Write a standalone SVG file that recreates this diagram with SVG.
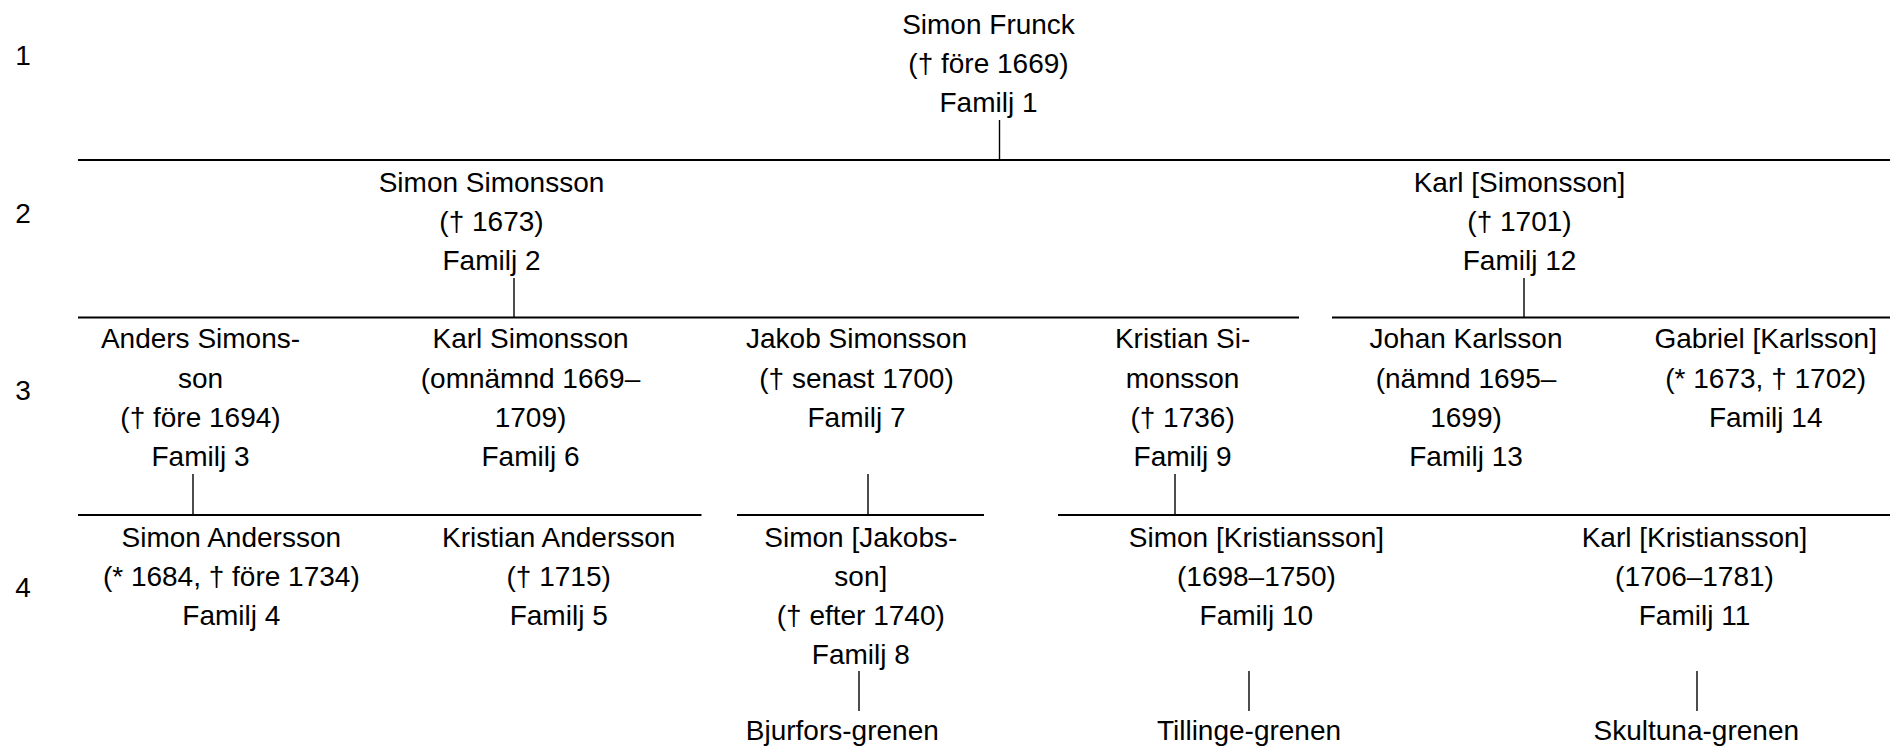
<svg xmlns="http://www.w3.org/2000/svg" width="1890" height="746" viewBox="0 0 1890 746">
<style>
.t{font-family:"Liberation Sans",Arial,sans-serif;font-size:28px;fill:#000;text-anchor:middle}
.h{stroke:#000;stroke-width:2;fill:none}
.v{stroke:#000;stroke-width:1.4;fill:none}
</style>
<rect width="1890" height="746" fill="#fff"/>
<g id="generations">
<text class="t" x="23" y="65">1</text>
<text class="t" x="23" y="223">2</text>
<text class="t" x="23" y="400">3</text>
<text class="t" x="23" y="597">4</text>
</g>
<g id="connectors">
<line class="h" x1="78" y1="160" x2="1890" y2="160"/>
<line class="h" x1="78" y1="317.5" x2="1299" y2="317.5"/>
<line class="h" x1="1332" y1="317.5" x2="1890" y2="317.5"/>
<line class="h" x1="78" y1="515" x2="701.5" y2="515"/>
<line class="h" x1="737" y1="515" x2="984" y2="515"/>
<line class="h" x1="1058" y1="515" x2="1890" y2="515"/>
<line class="v" x1="999.5" y1="120" x2="999.5" y2="159"/>
<line class="v" x1="514" y1="278" x2="514" y2="317"/>
<line class="v" x1="1524" y1="278" x2="1524" y2="317"/>
<line class="v" x1="193" y1="474" x2="193" y2="514"/>
<line class="v" x1="868" y1="474" x2="868" y2="514"/>
<line class="v" x1="1175" y1="474" x2="1175" y2="514"/>
<line class="v" x1="859" y1="671" x2="859" y2="711"/>
<line class="v" x1="1249" y1="671" x2="1249" y2="711"/>
<line class="v" x1="1697" y1="671" x2="1697" y2="711"/>
</g>
<g id="n1"><text class="t" x="988.5" y="33.5">Simon Frunck</text><text class="t" x="988.5" y="72.7">(† före 1669)</text><text class="t" x="988.5" y="111.9">Familj 1</text></g>
<g id="n2"><text class="t" x="491.5" y="191.7">Simon Simonsson</text><text class="t" x="491.5" y="230.9">(† 1673)</text><text class="t" x="491.5" y="270.1">Familj 2</text></g>
<g id="n12"><text class="t" x="1519.5" y="191.7">Karl [Simonsson]</text><text class="t" x="1519.5" y="230.9">(† 1701)</text><text class="t" x="1519.5" y="270.1">Familj 12</text></g>
<g id="n3"><text class="t" x="200.5" y="348.3">Anders Simons-</text><text class="t" x="200.5" y="387.5">son</text><text class="t" x="200.5" y="426.7">(† före 1694)</text><text class="t" x="200.5" y="465.9">Familj 3</text></g>
<g id="n6"><text class="t" x="530.5" y="348.3">Karl Simonsson</text><text class="t" x="530.5" y="387.5">(omnämnd 1669–</text><text class="t" x="530.5" y="426.7">1709)</text><text class="t" x="530.5" y="465.9">Familj 6</text></g>
<g id="n7"><text class="t" x="856.5" y="348.3">Jakob Simonsson</text><text class="t" x="856.5" y="387.5">(† senast 1700)</text><text class="t" x="856.5" y="426.7">Familj 7</text></g>
<g id="n9"><text class="t" x="1182.6" y="348.3">Kristian Si-</text><text class="t" x="1182.6" y="387.5">monsson</text><text class="t" x="1182.6" y="426.7">(† 1736)</text><text class="t" x="1182.6" y="465.9">Familj 9</text></g>
<g id="n13"><text class="t" x="1466" y="348.3">Johan Karlsson</text><text class="t" x="1466" y="387.5">(nämnd 1695–</text><text class="t" x="1466" y="426.7">1699)</text><text class="t" x="1466" y="465.9">Familj 13</text></g>
<g id="n14"><text class="t" x="1765.7" y="348.3">Gabriel [Karlsson]</text><text class="t" x="1765.7" y="387.5">(* 1673, † 1702)</text><text class="t" x="1765.7" y="426.7">Familj 14</text></g>
<g id="n4"><text class="t" x="231.3" y="546.7">Simon Andersson</text><text class="t" x="231.3" y="585.9">(* 1684, † före 1734)</text><text class="t" x="231.3" y="625.1">Familj 4</text></g>
<g id="n5"><text class="t" x="558.7" y="546.7">Kristian Andersson</text><text class="t" x="558.7" y="585.9">(† 1715)</text><text class="t" x="558.7" y="625.1">Familj 5</text></g>
<g id="n8"><text class="t" x="860.8" y="546.7">Simon [Jakobs-</text><text class="t" x="860.8" y="585.9">son]</text><text class="t" x="860.8" y="625.1">(† efter 1740)</text><text class="t" x="860.8" y="664.3">Familj 8</text></g>
<g id="n10"><text class="t" x="1256.4" y="546.7">Simon [Kristiansson]</text><text class="t" x="1256.4" y="585.9">(1698–1750)</text><text class="t" x="1256.4" y="625.1">Familj 10</text></g>
<g id="n11"><text class="t" x="1694.5" y="546.7">Karl [Kristiansson]</text><text class="t" x="1694.5" y="585.9">(1706–1781)</text><text class="t" x="1694.5" y="625.1">Familj 11</text></g>
<g id="b8"><text class="t" x="842.3" y="739.5">Bjurfors-grenen</text></g>
<g id="b10"><text class="t" x="1249" y="739.5">Tillinge-grenen</text></g>
<g id="b11"><text class="t" x="1696.3" y="739.5">Skultuna-grenen</text></g>
</svg>
